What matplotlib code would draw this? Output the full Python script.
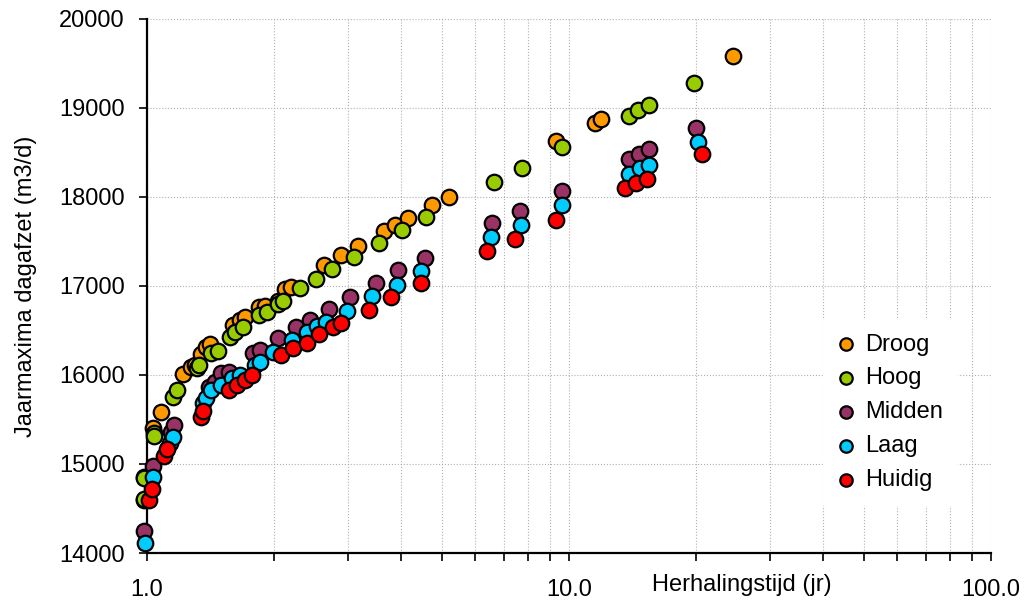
import matplotlib.pyplot as plt
from matplotlib.ticker import FixedLocator, FuncFormatter, NullFormatter

plt.rcParams['font.family'] = ['Liberation Sans', 'DejaVu Sans']

# herhalingstijd (jr) en jaarmaxima per scenario
droog_x = [0.985, 0.985, 1.035, 1.077, 1.22, 1.27, 1.30, 1.34, 1.38, 1.41, 1.60, 1.66, 1.71,
           1.84, 1.90, 2.04, 2.12, 2.19, 2.62, 2.88, 3.16, 3.64, 3.87, 4.16, 4.74, 5.19,
           9.32, 11.5, 11.9, 24.5]
droog_y = [14600, 14850, 15400, 15580, 16010, 16090, 16110, 16240, 16315, 16345, 16560, 16615, 16650,
           16765, 16772, 16830, 16960, 16990, 17232, 17345, 17446, 17614, 17681, 17763, 17906, 17999,
           18624, 18829, 18871, 19581]

hoog_x = [0.985, 0.985, 1.04, 1.04, 1.154, 1.18, 1.31, 1.33, 1.42, 1.47, 1.57, 1.62, 1.69, 1.84,
          1.92, 2.04, 2.10, 2.31, 2.51, 2.75, 3.09, 3.55, 4.02, 4.58, 6.65, 7.74, 9.63, 13.85,
          14.6, 15.5, 19.8]
hoog_y = [14610, 14840, 15350, 15310, 15754, 15829, 16073, 16110, 16241, 16271, 16428, 16484, 16540,
          16671, 16708, 16800, 16832, 16978, 17072, 17187, 17322, 17483, 17625, 17775, 18160, 18318,
          18557, 18905, 18969, 19032, 19272]

midden_x = [0.985, 1.035, 1.137, 1.158, 1.40, 1.45, 1.50, 1.56, 1.78, 1.85, 2.04, 2.26, 2.43, 2.70,
            3.02, 3.49, 3.94, 4.55, 6.57, 7.67, 9.61, 13.85, 14.65, 15.5, 19.96]
midden_y = [14247, 14976, 15361, 15437, 15867, 15923, 16017, 16035, 16241, 16278, 16410, 16540, 16615,
            16735, 16877, 17034, 17176, 17311, 17707, 17842, 18063, 18419, 18475, 18538, 18773]

laag_x = [0.99, 1.031, 1.134, 1.15, 1.36, 1.38, 1.42, 1.50, 1.59, 1.66, 1.80, 1.85, 1.99, 2.20,
          2.39, 2.53, 2.66, 2.97, 3.42, 3.91, 4.47, 6.52, 7.69, 9.61, 13.85, 14.7, 15.5, 20.25]
laag_y = [14116, 14850, 15238, 15298, 15680, 15735, 15829, 15886, 15961, 15998, 16110, 16147, 16259,
          16391, 16480, 16548, 16589, 16713, 16888, 17011, 17168, 17543, 17678, 17902, 18257, 18321,
          18355, 18613]

huidig_x = [1.013, 1.026, 1.099, 1.117, 1.34, 1.36, 1.56, 1.63, 1.71, 1.77, 2.08, 2.22, 2.39, 2.56,
            2.76, 2.88, 3.35, 3.79, 4.45, 6.38, 7.45, 9.31, 13.6, 14.4, 15.3, 20.7]
huidig_y = [14595, 14715, 15092, 15164, 15523, 15600, 15829, 15886, 15942, 15998, 16222, 16301, 16354,
            16455, 16533, 16578, 16727, 16870, 17027, 17389, 17521, 17741, 18100, 18156, 18197, 18475]

reeksen = [
    ('Droog', droog_x, droog_y, '#FF9900'),
    ('Hoog', hoog_x, hoog_y, '#99CC00'),
    ('Midden', midden_x, midden_y, '#993366'),
    ('Laag', laag_x, laag_y, '#00CCFF'),
    ('Huidig', huidig_x, huidig_y, '#FF0000'),
]

fig = plt.figure(figsize=(10.26, 6.04), dpi=100)
ax = fig.add_axes([0.1433, 0.0844, 0.8226, 0.8848])

for naam, xs, ys, kleur in reeksen:
    ax.scatter(xs, ys, s=125, c=kleur, edgecolors='black', linewidths=1.6,
               label=naam, zorder=3, clip_on=False)

ax.set_xscale('log')
ax.set_xlim(1, 100)
ax.set_ylim(14000, 20000)
ax.set_yticks(range(14000, 20001, 1000))

ax.xaxis.set_major_locator(FixedLocator([1, 10, 100]))
ax.xaxis.set_minor_locator(FixedLocator([2, 3, 4, 5, 6, 7, 8, 9, 20, 30, 40, 50, 60, 70, 80, 90]))
ax.xaxis.set_major_formatter(FuncFormatter(lambda v, p: f'{v:.1f}'))
ax.xaxis.set_minor_formatter(NullFormatter())

ax.grid(True, which='both', axis='x', color='#B0B0B0', linestyle=':', linewidth=0.8)
ax.grid(True, which='major', axis='y', color='#B0B0B0', linestyle=':', linewidth=0.8)
ax.set_axisbelow(True)

for kant in ['top', 'right']:
    ax.spines[kant].set_visible(False)
for kant in ['left', 'bottom']:
    ax.spines[kant].set_linewidth(1.6)

ax.tick_params(axis='both', which='major', direction='out', length=6, width=1.2,
               labelsize=17, pad=10)
ax.tick_params(axis='x', which='major', pad=13)
ax.tick_params(axis='x', which='minor', direction='out', length=6, width=1.2)

ax.set_ylabel('Jaarmaxima dagafzet (m3/d)', fontsize=17, labelpad=16)
fig.text(0.723, 0.022, 'Herhalingstijd (jr)', fontsize=17, ha='center', va='baseline')

leg = ax.legend(loc='upper left', bbox_to_anchor=(0.802, 0.471), bbox_transform=fig.transFigure,
                fontsize=17, frameon=True, fancybox=False, edgecolor='white', framealpha=1,
                handlelength=0.8, handletextpad=0.4, labelspacing=0.5, borderpad=0.6,
                borderaxespad=0, scatterpoints=1, markerscale=0.8)
leg.set_zorder(5)

fig.savefig('out.png', dpi=100)
